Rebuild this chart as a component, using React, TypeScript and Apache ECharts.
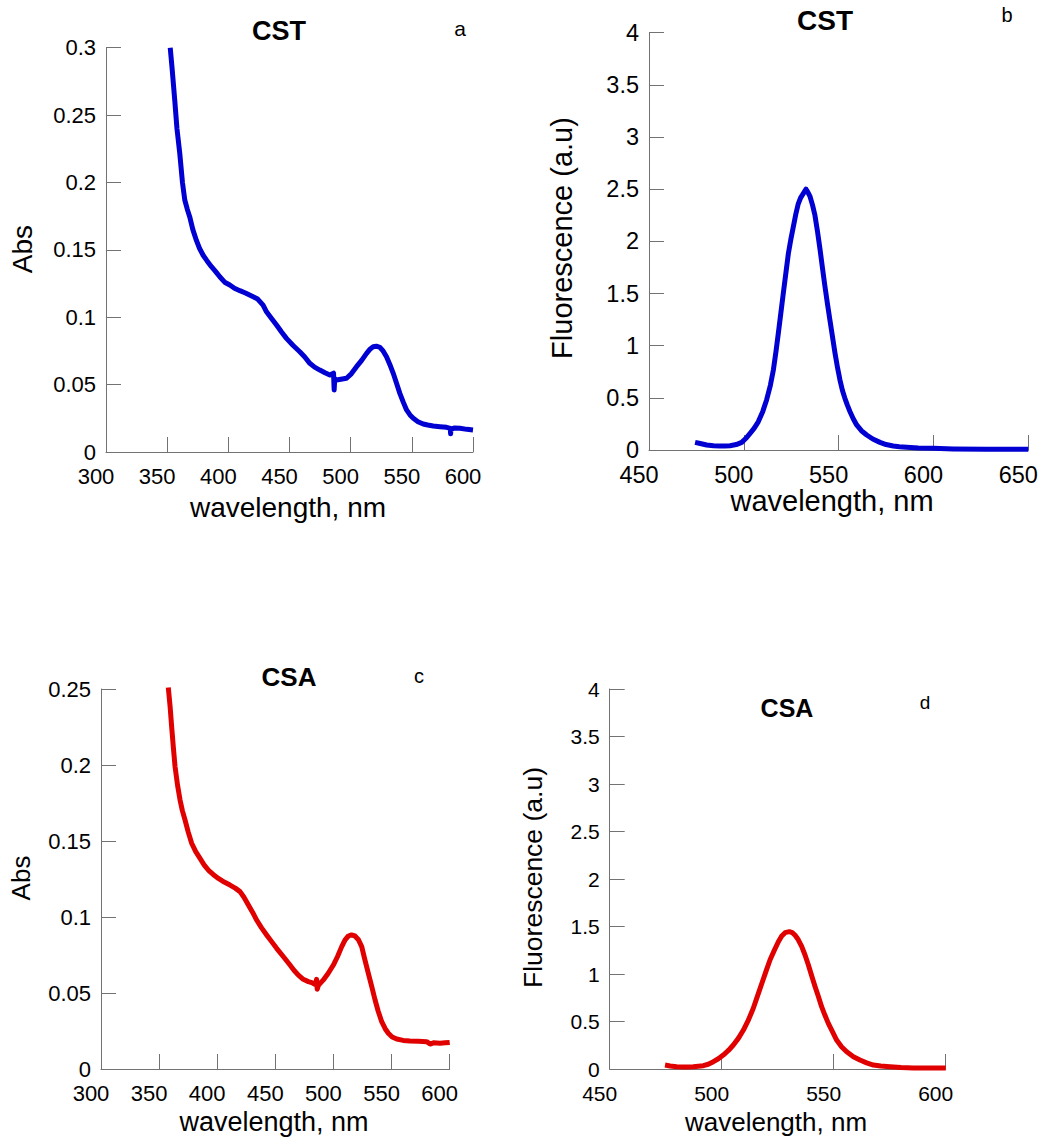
import React, { useEffect, useRef } from "react";
import * as echarts from "echarts";

// Absorption spectrum of CST (panel a)
const cstAbsWl = [352.5, 354, 356.2, 358, 360.3, 362.5, 364.4, 366.5, 368.4, 371, 373.9, 376.5, 379.4, 382.5, 386.2, 389.5, 393, 397, 401.2, 405, 409.4, 414, 420.3, 424, 428.4, 431.2, 435, 439.4, 443.5, 447.5, 453, 458.4, 462.5, 466.6, 470.5, 474.8, 479, 483, 486, 486.5, 487, 488.4, 492, 496.6, 500.5, 504.8, 509, 513, 516, 518.4, 521, 523.9, 526.5, 529.3, 532, 534.8, 537.5, 540.2, 543, 545.7, 548.5, 551.2, 555, 559.3, 563, 567.5, 573, 578.4, 581.5, 581.7, 582, 585, 589.3, 595, 600];
const cstAbs = [0.3, 0.285, 0.261, 0.24, 0.2216, 0.2, 0.187, 0.18, 0.1746, 0.165, 0.157, 0.151, 0.146, 0.142, 0.1375, 0.134, 0.13, 0.126, 0.1239, 0.1215, 0.1197, 0.118, 0.1152, 0.1135, 0.109, 0.104, 0.0995, 0.0942, 0.089, 0.0843, 0.079, 0.0744, 0.0705, 0.0658, 0.063, 0.0608, 0.0588, 0.0571, 0.0585, 0.046, 0.0545, 0.0534, 0.054, 0.0547, 0.058, 0.0633, 0.068, 0.0732, 0.0765, 0.0781, 0.0785, 0.0777, 0.075, 0.0707, 0.065, 0.0584, 0.051, 0.0435, 0.037, 0.0312, 0.0275, 0.025, 0.0225, 0.0208, 0.02, 0.0193, 0.0188, 0.0183, 0.0175, 0.0135, 0.017, 0.0178, 0.0176, 0.0168, 0.0163];

// Fluorescence spectrum of CST (panel b)
const cstFlWl = [474.3, 477, 480.4, 484, 487.4, 490, 492.7, 496, 498.9, 501, 503.3, 505.5, 507.6, 510, 512, 514, 515.6, 517, 518.2, 519.5, 520.8, 522.2, 523.5, 524.8, 526.1, 527.4, 528.7, 530, 531.4, 532.8, 533.8, 534.9, 536.2, 537.5, 538.8, 540.2, 541.5, 542.8, 544.1, 545.4, 546.8, 548.1, 549.4, 550.7, 552, 553.3, 554.6, 556, 557.7, 559.5, 562, 564.8, 568, 571.8, 575, 578.8, 582, 585.9, 592, 599.9, 610.5, 628, 650];
const cstFl = [0.073, 0.062, 0.048, 0.041, 0.038, 0.038, 0.0415, 0.052, 0.073, 0.11, 0.16, 0.21, 0.27, 0.37, 0.48, 0.62, 0.77, 0.95, 1.12, 1.31, 1.5, 1.7, 1.885, 2.02, 2.14, 2.26, 2.36, 2.42, 2.46, 2.5, 2.47, 2.43, 2.35, 2.25, 2.1, 1.92, 1.74, 1.565, 1.4, 1.246, 1.08, 0.927, 0.79, 0.67, 0.57, 0.495, 0.43, 0.367, 0.3, 0.24, 0.185, 0.144, 0.105, 0.073, 0.052, 0.038, 0.031, 0.026, 0.02, 0.016, 0.01, 0.006, 0.006];

// Absorption spectrum of CSA (panel c)
const csaAbsWl = [357.9, 359.5, 360.8, 362.2, 363.7, 365.8, 368, 370, 372.3, 375, 378, 381.5, 385.2, 388.5, 392.3, 396.5, 401, 406, 411, 415.5, 419.6, 423, 426.8, 430.5, 433.9, 438, 442.5, 446.8, 451.1, 456.8, 462.6, 466, 469.8, 474, 478.4, 482, 484.5, 485.5, 486, 487, 491.3, 495.5, 499.9, 503.5, 507.1, 510, 512.8, 515.5, 518.5, 521.5, 524.3, 527, 530, 533, 535.8, 538.5, 541.5, 544.5, 547.2, 550.5, 554.4, 560, 565.9, 573, 580.2, 583.1, 586, 591.7, 596, 600];
const csaAbs = [0.251, 0.238, 0.225, 0.212, 0.199, 0.187, 0.177, 0.17, 0.1638, 0.156, 0.1485, 0.143, 0.1386, 0.1345, 0.1309, 0.128, 0.1254, 0.123, 0.121, 0.119, 0.1167, 0.113, 0.1079, 0.103, 0.098, 0.093, 0.0882, 0.0838, 0.0794, 0.074, 0.0684, 0.065, 0.0618, 0.059, 0.0575, 0.0566, 0.0555, 0.059, 0.0525, 0.055, 0.0586, 0.063, 0.0684, 0.074, 0.0805, 0.085, 0.0875, 0.0882, 0.0875, 0.085, 0.0805, 0.072, 0.0629, 0.054, 0.0454, 0.038, 0.0311, 0.0265, 0.0235, 0.021, 0.0197, 0.0188, 0.0184, 0.0182, 0.018, 0.0164, 0.0172, 0.0169, 0.0172, 0.0175];

// Fluorescence spectrum of CSA (panel d)
const csaFlWl = [474.7, 477, 479.9, 484, 487.3, 491.8, 494, 496.3, 498.5, 500.7, 503, 505.2, 507.5, 509.7, 512, 514.1, 516, 517.9, 519.8, 521.6, 523.5, 525.3, 526.8, 528.3, 530.2, 531.5, 532.7, 534.2, 535.7, 537.2, 538.7, 540.2, 541.7, 543.2, 544.6, 546.1, 547.6, 549.5, 551.3, 553.5, 555.8, 558.8, 561.7, 564.7, 567.7, 571, 575.1, 580, 585.6, 600];
const csaFl = [0.042, 0.032, 0.0246, 0.022, 0.0246, 0.035, 0.05, 0.077, 0.108, 0.147, 0.195, 0.253, 0.325, 0.41, 0.52, 0.64, 0.77, 0.9, 1.03, 1.15, 1.25, 1.34, 1.4, 1.435, 1.446, 1.435, 1.41, 1.36, 1.29, 1.2, 1.095, 0.98, 0.867, 0.76, 0.656, 0.565, 0.48, 0.39, 0.305, 0.235, 0.182, 0.13, 0.095, 0.065, 0.042, 0.032, 0.0246, 0.016, 0.0105, 0.0105];

const FONT = "'Liberation Sans', Arial, sans-serif";
const AXIS_GRAY = "#727272";
const BLUE = "#0000d2";
const RED = "#e00000";

type Panel = {
  grid: { left: number; top: number; width: number; height: number };
  xMin: number;
  xMax: number;
  yMax: number;
  yStep: number;
  tickSize: number;
  wl: number[];
  vals: number[];
  color: string;
};

const panels: Panel[] = [
  { grid: { left: 106, top: 47.7, width: 367, height: 404.3 }, xMin: 300, xMax: 600, yMax: 0.3, yStep: 0.05, tickSize: 22, wl: cstAbsWl, vals: cstAbs, color: BLUE },
  { grid: { left: 649, top: 32.7, width: 379.3, height: 417.3 }, xMin: 450, xMax: 650, yMax: 4, yStep: 0.5, tickSize: 23.5, wl: cstFlWl, vals: cstFl, color: BLUE },
  { grid: { left: 101, top: 689, width: 348.7, height: 380 }, xMin: 300, xMax: 600, yMax: 0.25, yStep: 0.05, tickSize: 22, wl: csaAbsWl, vals: csaAbs, color: RED },
  { grid: { left: 609.7, top: 689, width: 336, height: 380 }, xMin: 450, xMax: 600, yMax: 4, yStep: 0.5, tickSize: 21, wl: csaFlWl, vals: csaFl, color: RED },
];

type Label = { text: string; x: number; y: number; size: number; bold?: boolean; rotate?: boolean };

const labels: Label[] = [
  { text: "CST", x: 279, y: 31, size: 27, bold: true },
  { text: "a", x: 460, y: 28, size: 21 },
  { text: "Abs", x: 22.5, y: 249, size: 28, rotate: true },
  { text: "wavelength, nm", x: 288, y: 507, size: 28 },
  { text: "CST", x: 825, y: 20, size: 28, bold: true },
  { text: "b", x: 1007, y: 15, size: 20 },
  { text: "Fluorescence (a.u)", x: 562, y: 238, size: 29, rotate: true },
  { text: "wavelength, nm", x: 832, y: 501, size: 29 },
  { text: "CSA", x: 289, y: 677, size: 26, bold: true },
  { text: "c", x: 419, y: 676, size: 20 },
  { text: "Abs", x: 21, y: 878, size: 26, rotate: true },
  { text: "wavelength, nm", x: 274, y: 1122, size: 27 },
  { text: "CSA", x: 787, y: 708, size: 25, bold: true },
  { text: "d", x: 925, y: 702, size: 19 },
  { text: "Fluorescence (a.u)", x: 533, y: 877.5, size: 26.5, rotate: true },
  { text: "wavelength, nm", x: 776, y: 1122, size: 26 },
];

function buildOption() {
  const grid = panels.map((p) => ({ ...p.grid, containLabel: false, outerBoundsMode: "none" }));
  const xAxis = panels.map((p, i) => ({
    type: "value",
    gridIndex: i,
    min: p.xMin,
    max: p.xMax,
    interval: 50,
    axisLine: { show: true, onZero: false, lineStyle: { color: AXIS_GRAY, width: 1 } },
    axisTick: { show: true, inside: true, length: 15, lineStyle: { color: AXIS_GRAY } },
    splitLine: { show: false },
    axisLabel: {
      color: "#000",
      fontFamily: FONT,
      fontSize: p.tickSize,
      lineHeight: Math.round(p.tickSize * 0.85),
      margin: 15,
      padding: [0, 20, 0, 0],
      showMinLabel: true,
      showMaxLabel: true,
    },
  }));
  const yAxis = panels.map((p, i) => ({
    type: "value",
    gridIndex: i,
    min: 0,
    max: p.yMax,
    interval: p.yStep,
    axisLine: { show: true, onZero: false, lineStyle: { color: AXIS_GRAY, width: 1 } },
    axisTick: { show: true, inside: true, length: 15, lineStyle: { color: AXIS_GRAY } },
    splitLine: { show: false },
    axisLabel: {
      color: "#000",
      fontFamily: FONT,
      fontSize: p.tickSize,
      margin: 10,
      padding: [0, 0, 6, 0],
    },
  }));
  const series = panels.map((p, i) => ({
    type: "line",
    xAxisIndex: i,
    yAxisIndex: i,
    data: p.wl.map((w, k) => [w, p.vals[k]]),
    showSymbol: false,
    symbol: "none",
    smooth: false,
    clip: true,
    lineStyle: { color: p.color, width: 5, join: "round" },
  }));
  const graphic = labels.map((l) => ({
    type: "text",
    x: l.x,
    y: l.y,
    rotation: l.rotate ? Math.PI / 2 : 0,
    style: {
      text: l.text,
      fill: "#000",
      fontFamily: FONT,
      fontSize: l.size,
      lineHeight: Math.round(l.size * 0.85),
      fontWeight: l.bold ? "bold" : "normal",
      align: "center",
      verticalAlign: "middle",
    },
  }));
  return { animation: false, backgroundColor: "#fff", grid, xAxis, yAxis, series, graphic };
}

export default function App() {
  const ref = useRef<HTMLDivElement>(null);
  useEffect(() => {
    if (!ref.current) return;
    const chart = echarts.init(ref.current, null, { renderer: "svg" });
    chart.setOption(buildOption() as any);
    return () => chart.dispose();
  }, []);
  return (
    <div
      ref={ref}
      style={{ position: "absolute", left: 0, top: 0, width: 1041, height: 1137, background: "#fff" }}
    />
  );
}
